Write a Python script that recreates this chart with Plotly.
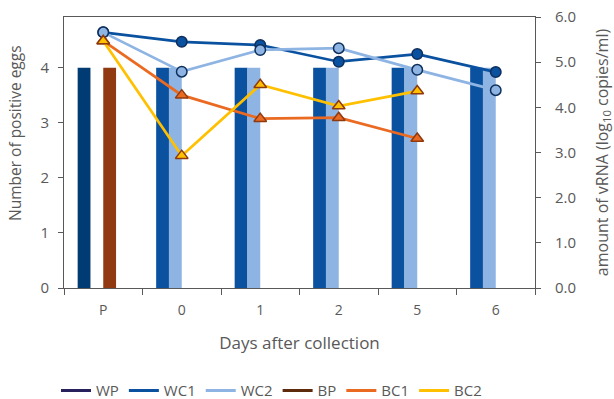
import plotly.graph_objects as go

# ---- data ----
categories = ["P", "0", "1", "2", "5", "6"]

# bars: number of positive eggs (left axis)
wp_eggs = [4, None, None, None, None, None]
wc1_eggs = [None, 4, 4, 4, 4, 4]
wc2_eggs = [None, 4, 4, 4, 4, 4]
bp_eggs = [4, None, None, None, None, None]

# lines: amount of vRNA, log10 copies/ml (right axis)
wc1_rna = [5.66, 5.45, 5.38, 5.01, 5.18, 4.78]
wc2_rna = [5.66, 4.79, 5.27, 5.31, 4.83, 4.38]
bc1_rna = [5.47, 4.27, 3.75, 3.77, 3.31, None]
bc2_rna = [5.47, 2.93, 4.50, 4.03, 4.36, None]

legend_names = ["WP", "WC1", "WC2", "BP", "BC1", "BC2"]

# ---- styles ----
C_WP_BAR = "#003B73"
C_WP_LEG = "#27215E"
C_WC1 = "#0A51A0"
C_WC2 = "#8EB4E3"
C_BP_BAR = "#913A12"
C_BP_LEG = "#5E2A0C"
C_BC1 = "#EB6A22"
C_BC2 = "#FFC000"
EDGE_C = "#0E2F5C"
EDGE_T = "#8E3A10"
GREY = "#595959"
FONT = "Open Sans"

W = 0.163
fig = go.Figure()

def add_bar(y, color, offset):
    fig.add_trace(go.Bar(x=categories, y=y, marker=dict(color=color, line=dict(width=0)),
                         width=W, offset=offset, showlegend=False, yaxis="y"))

add_bar(wp_eggs, C_WP_BAR, -0.326)
add_bar(wc1_eggs, C_WC1, -0.326)
add_bar(wc2_eggs, C_WC2, -0.163)
add_bar(bp_eggs, C_BP_BAR, 0.0)

def add_line(y, color, symbol, size, edge):
    fig.add_trace(go.Scatter(x=categories, y=y, mode="lines+markers", yaxis="y2",
                             line=dict(color=color, width=2.75),
                             marker=dict(symbol=symbol, size=size, color=color,
                                         line=dict(color=edge, width=1.5)),
                             showlegend=False, connectgaps=False))

add_line(wc1_rna, C_WC1, "circle", 10.5, EDGE_C)
add_line(wc2_rna, C_WC2, "circle", 10.5, EDGE_C)
add_line(bc1_rna, C_BC1, "triangle-up", 11, EDGE_T)
add_line(bc2_rna, C_BC2, "triangle-up", 11, EDGE_T)

leg_colors = [C_WP_LEG, C_WC1, C_WC2, C_BP_LEG, C_BC1, C_BC2]
for name, col in zip(legend_names, leg_colors):
    fig.add_trace(go.Scatter(x=[None], y=[None], mode="lines", name=name,
                             line=dict(color=col, width=3), yaxis="y2"))

fig.update_layout(
    width=614, height=399,
    margin=dict(l=64, r=79, t=17, b=111, autoexpand=False),
    plot_bgcolor="white", paper_bgcolor="white",
    barmode="overlay",
    font=dict(family=FONT, color=GREY, size=14),
    xaxis=dict(type="category", categoryorder="array", categoryarray=categories,
               range=[-0.5, 5.5], showline=True, linecolor=GREY, linewidth=1,
               mirror=True, ticks="outside", tickson="boundaries", ticklen=6,
               tickcolor=GREY, showgrid=False, zeroline=False, automargin=False,
               tickfont=dict(size=14, color=GREY), ticklabelstandoff=9,
               title=dict(text="Days after collection", font=dict(size=17, color=GREY),
                          standoff=19)),
    yaxis=dict(range=[0, 4.92], tickvals=[0, 1, 2, 3, 4], showline=True,
               linecolor=GREY, linewidth=1, ticks="outside", ticklen=5,
               tickcolor=GREY, showgrid=False, zeroline=False, automargin=False,
               tickfont=dict(size=15, color=GREY), ticklabelstandoff=6),
    yaxis2=dict(range=[0, 6], overlaying="y", side="right", tickvals=[0, 1, 2, 3, 4, 5, 6],
                tickformat=".1f", showline=True, linecolor=GREY, linewidth=1,
                ticks="outside", ticklen=5, tickcolor=GREY, showgrid=False,
                zeroline=False, automargin=False, tickfont=dict(size=15, color=GREY),
                ticklabelstandoff=11,
                title=dict(text="amount of vRNA (log<sub>10</sub> copies/ml)",
                           font=dict(size=16, color=GREY), standoff=22)),
    legend=dict(orientation="h", x=-0.017, xanchor="left", y=-0.44, yanchor="bottom",
                font=dict(size=15, color=GREY), tracegroupgap=0),
    showlegend=True,
    annotations=[dict(text="Number of positive eggs", xref="paper", yref="paper",
                      x=-64 / 471 + 15 / 471, y=(288 - 133) / 271, textangle=-90,
                      showarrow=False, xanchor="center", yanchor="middle",
                      font=dict(size=15.5, color=GREY, family=FONT))],
)

fig.write_html("out.html")
